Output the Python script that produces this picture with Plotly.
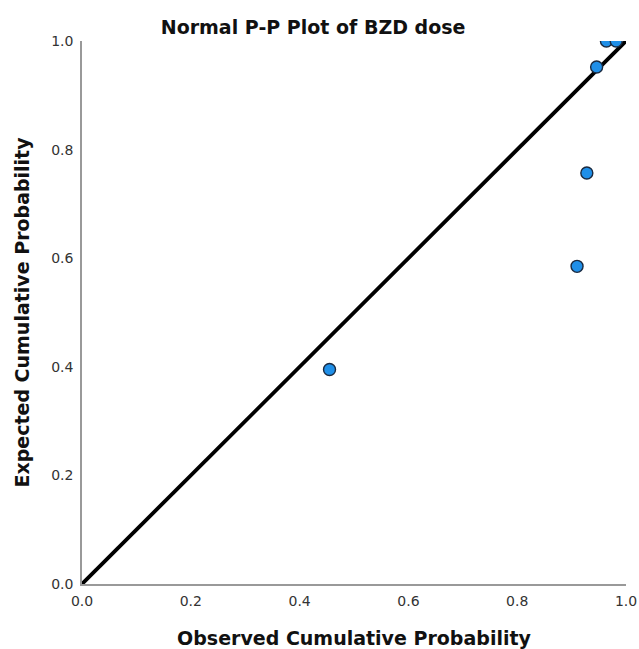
import plotly.graph_objects as go

observed = [0.455, 0.910, 0.928, 0.946, 0.964, 0.982]
expected = [0.395, 0.585, 0.757, 0.952, 1.0, 1.0]
line_x = [0.0, 1.0]
line_y = [0.0, 1.0]
tick_vals = [0.0, 0.2, 0.4, 0.6, 0.8, 1.0]
tick_text = ["0.0", "0.2", "0.4", "0.6", "0.8", "1.0"]

fig = go.Figure()
fig.add_trace(go.Scatter(x=line_x, y=line_y, mode="lines",
                         line=dict(color="black", width=3.8), showlegend=False, hoverinfo="skip"))
fig.add_trace(go.Scatter(x=observed, y=expected, mode="markers",
                         marker=dict(size=12, color="#1f8fe8", line=dict(color="#1a2a40", width=1.4)),
                         showlegend=False, cliponaxis=True))

font_fam = "DejaVu Sans"
fig.update_layout(
    width=639, height=649,
    margin=dict(l=82, r=13, t=41, b=65, autoexpand=False),
    plot_bgcolor="white", paper_bgcolor="white",
    title=dict(text="<b>Normal P-P Plot of BZD dose</b>", x=0.49, xanchor="center",
               y=1 - 27 / 649, yanchor="middle",
               font=dict(family=font_fam, size=19, color="#111")),
    xaxis=dict(range=[0, 1], tickvals=tick_vals, ticktext=tick_text, showgrid=False, zeroline=False,
               showline=True, linecolor="#999", linewidth=1.5, ticks="", automargin=False,
               ticklabelstandoff=3,
               tickfont=dict(family=font_fam, size=14, color="#333"),
               title=dict(text="<b>Observed Cumulative Probability</b>", standoff=24,
                          font=dict(family=font_fam, size=19, color="#111"))),
    yaxis=dict(range=[0, 1], tickvals=tick_vals, ticktext=tick_text, showgrid=False, zeroline=False,
               showline=True, linecolor="#999", linewidth=1.5, ticks="", automargin=False,
               ticklabelstandoff=4,
               tickfont=dict(family=font_fam, size=14, color="#333"),
               title=dict(text="<b>Expected Cumulative Probability</b>", standoff=17,
                          font=dict(family=font_fam, size=19, color="#111"))),
)
fig.write_html("out.html")
